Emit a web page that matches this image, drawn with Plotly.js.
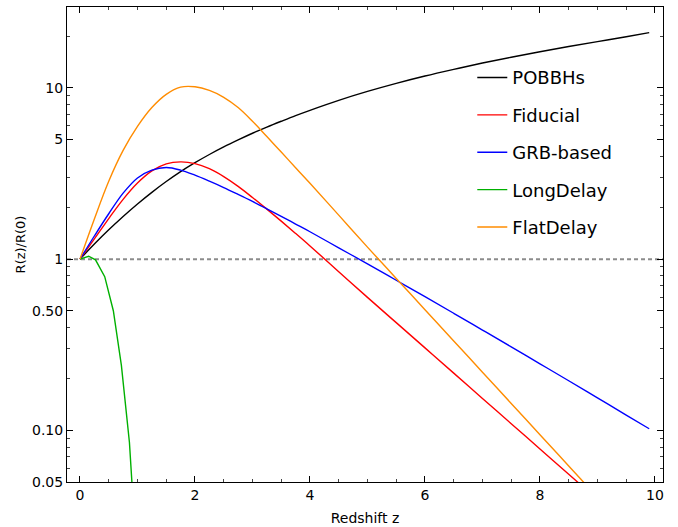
<!DOCTYPE html>
<html>
<head>
<meta charset="utf-8">
<script src="https://cdn.plot.ly/plotly-3.0.1.min.js"></script>
<style>html,body{margin:0;padding:0;background:#fff;}#chart{width:678px;height:527px;}</style>
</head>
<body>
<div id="chart"></div>
<script>
// ---- data ----
const zGrid = [0, 0.25, 0.5, 0.75, 1.0, 1.25, 1.5, 1.75, 2.0, 2.25, 2.5, 2.75, 3.0, 3.25, 3.5, 3.75, 4.0,
               4.5, 5.0, 5.5, 6.0, 6.5, 7.0, 7.5, 8.0, 8.5, 9.0, 9.5, 9.9];
const pobbhs   = [1, 1.225, 1.483, 1.774, 2.099, 2.455, 2.838, 3.243, 3.656, 4.083, 4.519, 4.966, 5.433, 5.902, 6.383, 6.887, 7.396,
                  8.453, 9.528, 10.62, 11.72, 12.82, 13.96, 15.10, 16.26, 17.42, 18.62, 19.86, 21.0];
const fiducial = [1, 1.312, 1.726, 2.234, 2.780, 3.273, 3.597, 3.698, 3.614, 3.373, 3.034, 2.661, 2.291, 1.959, 1.667, 1.413, 1.194,
                  0.845, 0.598, 0.4259, 0.3034, 0.2160, 0.1538, 0.1095, 0.0780, 0.0555, 0.0395, 0.0281, 0.0215];
const grbBased = [1, 1.365, 1.841, 2.427, 2.979, 3.311, 3.428, 3.311, 3.090, 2.851, 2.618, 2.388, 2.173, 1.968, 1.778, 1.603, 1.445,
                  1.164, 0.938, 0.753, 0.604, 0.483, 0.3855, 0.3076, 0.2449, 0.195, 0.1549, 0.123, 0.1023];
const flatDelay= [1, 1.718, 2.851, 4.315, 5.957, 7.674, 9.162, 10.09, 10.14, 9.661, 8.81, 7.674, 6.383, 5.2, 4.217, 3.42, 2.773,
                  1.807, 1.175, 0.7718, 0.507, 0.3331, 0.2188, 0.1437, 0.0944, 0.062, 0.0407, 0.0268, 0.0191];
const zLong    = [0, 0.15, 0.27, 0.43, 0.58, 0.72, 0.86, 1.0];
const longDelay= [1, 1.04, 0.99, 0.79, 0.50, 0.24, 0.085, 0.015];
const seriesNames = ["POBBHs", "Fiducial", "GRB-based", "LongDelay", "FlatDelay"];
const seriesColors = ["#000000", "#ff0000", "#0000ff", "#00b000", "#ff8c00"];
const refValue = 1;
const xTicks = [0, 2, 4, 6, 8, 10];
const yTicks = [0.05, 0.1, 0.5, 1, 5, 10];
const yTickText = ["0.05", "0.10", "0.50", "1", "5", "10"];
const yMinor = [0.06, 0.07, 0.08, 0.09, 0.2, 0.3, 0.4, 0.6, 0.7, 0.8, 0.9, 2, 3, 4, 6, 7, 8, 9, 20, 30];
const xRange = [-0.226, 10.14];
const yRange = [Math.log10(0.05), 1.472];

const xs = [zGrid, zGrid, zGrid, zLong, zGrid];
const ys = [pobbhs, fiducial, grbBased, longDelay, flatDelay];

const traces = [{
  x: xRange, y: [refValue, refValue], mode: "lines", showlegend: false, hoverinfo: "skip",
  line: {color: "#8c8c8c", width: 2, dash: "4px,3px"}
}];
for (let i = 0; i < 5; i++) {
  traces.push({
    x: xs[i], y: ys[i], name: seriesNames[i], legendgroup: "g" + i, mode: "lines",
    line: {color: seriesColors[i], width: 1.4, shape: i === 3 ? "linear" : "spline", smoothing: 1}
  });
}

const font = {family: "DejaVu Sans, sans-serif", color: "#000", size: 14};
const layout = {
  width: 678, height: 527,
  margin: {l: 67, r: 15, t: 7, b: 45},
  paper_bgcolor: "#fff", plot_bgcolor: "#fff",
  font: font,
  showlegend: true,
  legend: {x: 0.68, y: 0.89, xanchor: "left", yanchor: "top", bgcolor: "rgba(0,0,0,0)",
           font: {family: "DejaVu Sans, sans-serif", size: 18, color: "#000"},
           traceorder: "grouped", tracegroupgap: 11},
  xaxis: {
    range: xRange, showgrid: false, zeroline: false,
    showline: true, linecolor: "#000", linewidth: 1, mirror: "ticks",
    tickmode: "array", tickvals: xTicks, ticks: "inside", ticklen: 6, tickcolor: "#000",
    tickfont: {size: 14},
    minor: {dtick: 0.5, tick0: 0, ticks: "inside", ticklen: 3, tickcolor: "#444"},
    title: {text: "Redshift z", font: {size: 14}, standoff: 11}
  },
  yaxis: {
    type: "log", range: yRange, showgrid: false, zeroline: false,
    showline: true, linecolor: "#000", linewidth: 1, mirror: "ticks",
    tickmode: "array", tickvals: yTicks, ticktext: yTickText, ticks: "inside", ticklen: 6, tickcolor: "#000",
    tickfont: {size: 14},
    minor: {tickmode: "array", tickvals: yMinor, ticks: "inside", ticklen: 3, tickcolor: "#444"},
    title: {text: "R(z)/R(0)", font: {size: 13}, standoff: 3}
  }
};
Plotly.newPlot("chart", traces, layout, {staticPlot: true, displayModeBar: false});
</script>
</body>
</html>
